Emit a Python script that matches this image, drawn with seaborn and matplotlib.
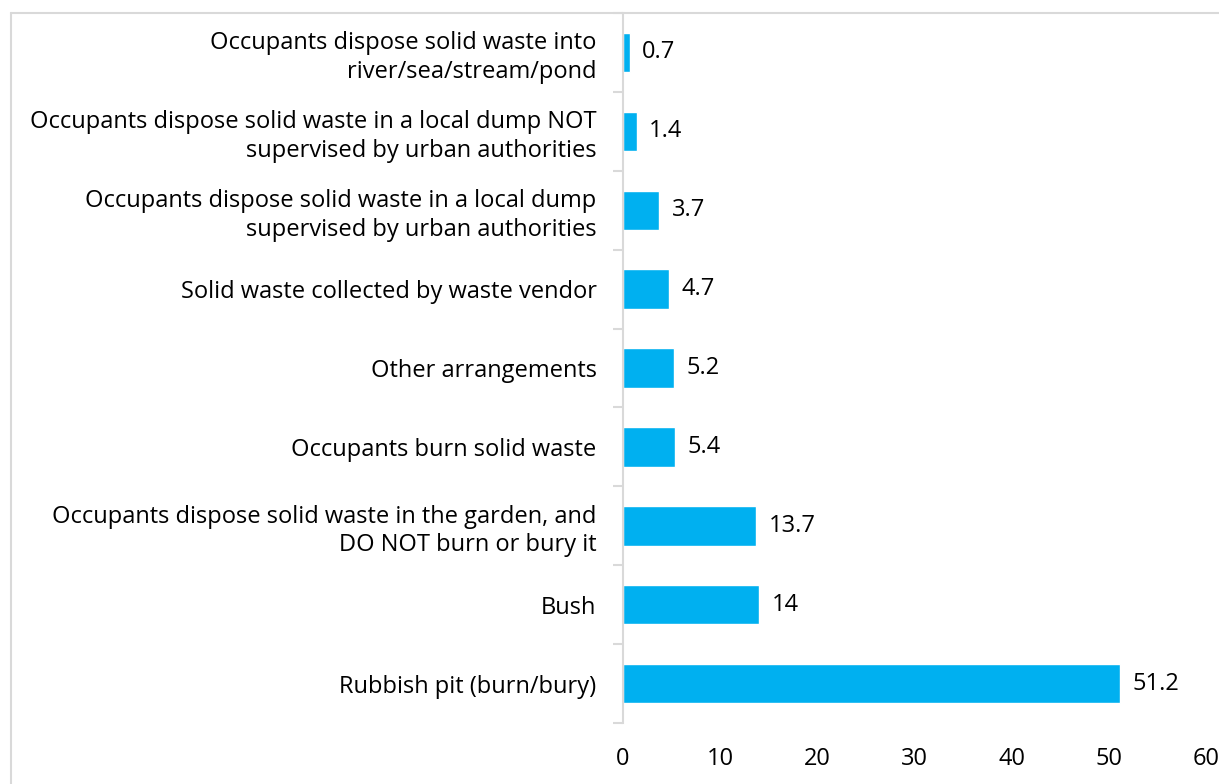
import matplotlib
matplotlib.use("Agg")
import matplotlib.pyplot as plt
import seaborn as sns
import pandas as pd
import numpy as np
from matplotlib.lines import Line2D

categories = [
    "Occupants dispose solid waste into\nriver/sea/stream/pond",
    "Occupants dispose solid waste in a local dump NOT\nsupervised by urban authorities",
    "Occupants dispose solid waste in a local dump\nsupervised by urban authorities",
    "Solid waste collected by waste vendor",
    "Other arrangements",
    "Occupants burn solid waste",
    "Occupants dispose solid waste in the garden, and\nDO NOT burn or bury it",
    "Bush",
    "Rubbish pit (burn/bury)",
]
values = [0.7, 1.4, 3.7, 4.7, 5.2, 5.4, 13.7, 14, 51.2]
value_labels = ["0.7", "1.4", "3.7", "4.7", "5.2", "5.4", "13.7", "14", "51.2"]
x_ticks = [0, 10, 20, 30, 40, 50, 60]

df = pd.DataFrame({"category": categories, "value": values})

sns.set_style("white")
plt.rcParams["font.family"] = ["Open Sans", "DejaVu Sans"]
plt.rcParams["text.color"] = "black"
plt.rcParams["xtick.color"] = "black"
plt.rcParams["ytick.color"] = "black"

fs = 17

fig = plt.figure(figsize=(12.19, 7.84), dpi=100)
ax = fig.add_axes([623 / 1219, 1 - 723 / 784, (1206 - 623) / 1219, (723 - 13) / 784])

sns.barplot(data=df, x="value", y="category", color="#00B0F0", width=0.5,
            saturation=1, ax=ax, orient="h")

for i, (v, lab) in enumerate(zip(values, value_labels)):
    ax.annotate(lab, (v, i), xytext=(9, 0), textcoords="offset points",
                va="center", ha="left", fontsize=fs, color="black")

ax.set_xlim(0, 60)
ax.set_ylim(len(categories) - 0.5, -0.5)
ax.set_xticks(x_ticks)
ax.set_xticklabels([str(t) for t in x_ticks], fontsize=fs)
ax.set_xlabel("")
ax.set_ylabel("")
ax.tick_params(axis="x", length=0, pad=17, labelcolor="black")
ax.tick_params(axis="y", which="major", length=0, pad=19, labelsize=fs, labelcolor="black")
for lbl in ax.get_yticklabels():
    lbl.set_horizontalalignment("right")
    lbl.set_multialignment("right")
    lbl.set_linespacing(1.25)

for s in ["top", "right", "bottom"]:
    ax.spines[s].set_visible(False)
ax.spines["left"].set_color("#d9d9d9")
ax.spines["left"].set_linewidth(1.5)

# minor ticks between categories on the left spine
ax.set_yticks(np.arange(-0.5, len(categories), 1.0), minor=True)
ax.tick_params(axis="y", which="minor", left=True, length=7, color="#d9d9d9",
               width=1.5, direction="out")

# outer chart frame
fig.add_artist(Line2D([11 / 1219, 11 / 1219], [0, 1 - 13 / 784], transform=fig.transFigure,
                      color="#d9d9d9", lw=1.5))
fig.add_artist(Line2D([11 / 1219, 1], [1 - 13 / 784, 1 - 13 / 784], transform=fig.transFigure,
                      color="#d9d9d9", lw=1.5))

fig.savefig("out.png", dpi=100)
